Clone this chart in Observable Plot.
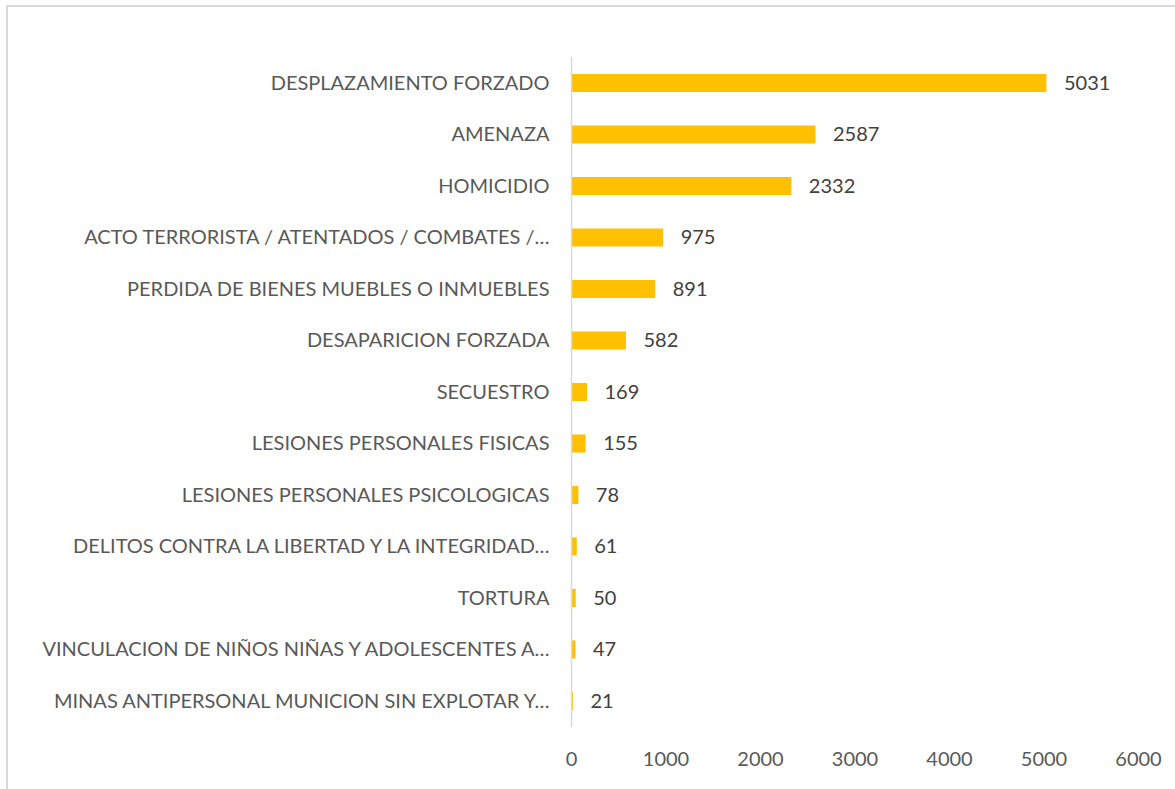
<!DOCTYPE html>
<html>
<head>
<meta charset="utf-8">
<script src="https://cdn.jsdelivr.net/npm/d3@7"></script>
<script src="https://cdn.jsdelivr.net/npm/@observablehq/plot@0.6"></script>
<style>
  html, body { margin: 0; padding: 0; background: #fff; }
  #wrap { position: relative; width: 1175px; height: 789px; overflow: hidden; }
  #frame { position: absolute; left: 6px; top: 5px; width: 1200px; height: 800px; border: 2px solid #d9d9d9; box-sizing: border-box; }
  #chart { position: absolute; left: 0; top: 0; }
</style>
</head>
<body>
<div id="wrap"><div id="frame"></div><div id="chart"></div></div>
<script>
const categories = [
  "DESPLAZAMIENTO FORZADO",
  "AMENAZA",
  "HOMICIDIO",
  "ACTO TERRORISTA / ATENTADOS / COMBATES /…",
  "PERDIDA DE BIENES MUEBLES O INMUEBLES",
  "DESAPARICION FORZADA",
  "SECUESTRO",
  "LESIONES PERSONALES FISICAS",
  "LESIONES PERSONALES PSICOLOGICAS",
  "DELITOS CONTRA LA LIBERTAD Y LA INTEGRIDAD…",
  "TORTURA",
  "VINCULACION DE NIÑOS NIÑAS Y ADOLESCENTES A…",
  "MINAS ANTIPERSONAL MUNICION SIN EXPLOTAR Y…"
];
const values = [5031, 2587, 2332, 975, 891, 582, 169, 155, 78, 61, 50, 47, 21];
const xTicks = [0, 1000, 2000, 3000, 4000, 5000, 6000];

const data = categories.map((c, i) => ({category: c, value: values[i]}));

const chart = Plot.plot({
  width: 1175,
  height: 789,
  marginLeft: 571,
  marginRight: 37,
  marginTop: 57,
  marginBottom: 62,
  style: {fontFamily: "Lato, 'Open Sans', sans-serif", fontSize: "20px", color: "#595959", background: "transparent"},
  x: {domain: [0, 6000], ticks: xTicks, tickSize: 0, tickPadding: 24, tickFormat: d => String(d), label: null},
  y: {domain: categories, paddingInner: 0.65, paddingOuter: 0.33, round: false, tickSize: 0, tickPadding: 22, label: null},
  marks: [
    Plot.barX(data, {x: "value", y: "category", fill: "#FFC000"}),
    Plot.ruleX([0], {stroke: "#d9d9d9", strokeWidth: 1.5}),
    Plot.text(data, {x: "value", y: "category", text: d => String(d.value), textAnchor: "start", dx: 17, fill: "#404040", fontSize: 20})
  ]
});
document.getElementById("chart").appendChild(chart);
</script>
</body>
</html>
